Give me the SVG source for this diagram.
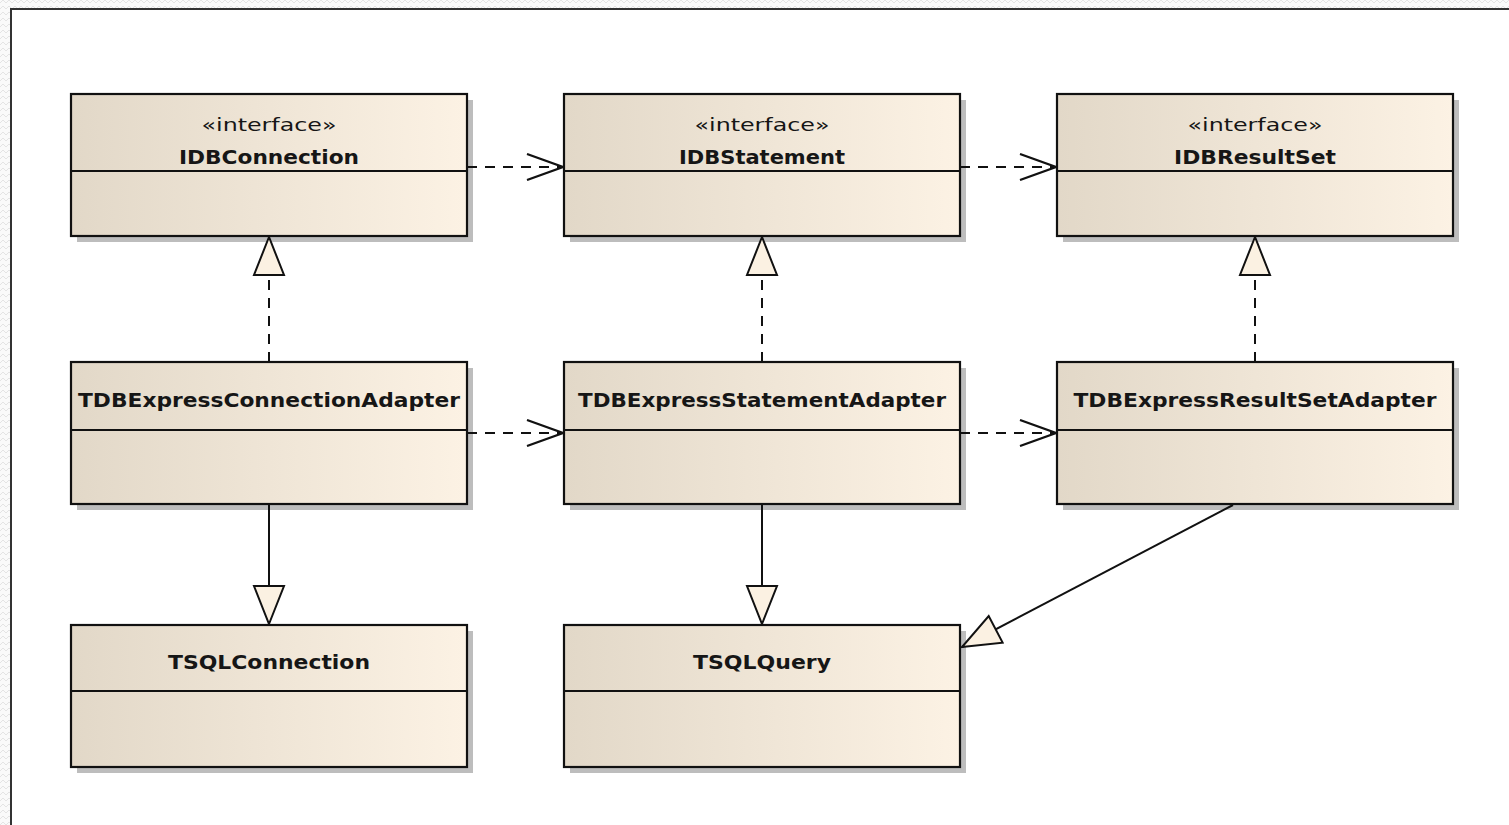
<svg xmlns="http://www.w3.org/2000/svg" width="1509" height="825" viewBox="0 0 1509 825">
  <defs>
    <linearGradient id="fill" x1="0" y1="0" x2="1" y2="0">
      <stop offset="0" stop-color="#e2d8c8"/>
      <stop offset="1" stop-color="#fcf2e4"/>
    </linearGradient>
    <pattern id="dots" width="6" height="6" patternUnits="userSpaceOnUse">
      <rect width="6" height="6" fill="#fafafa"/>
      <path d="M0 3 L3 0 L6 3" fill="none" stroke="#e4e4e4" stroke-width="1"/>
    </pattern>
    <!-- open arrowhead for dependencies -->
    <marker id="open" viewBox="0 0 40 28" refX="38" refY="14" markerWidth="40" markerHeight="28" markerUnits="userSpaceOnUse" orient="auto">
      <path d="M2 1 L38 14 L2 27" fill="none" stroke="#111" stroke-width="2.2"/>
    </marker>
    <!-- hollow triangle for realization / generalization -->
    <marker id="tri" viewBox="0 0 42 34" refX="40" refY="17" markerWidth="42" markerHeight="34" markerUnits="userSpaceOnUse" orient="auto">
      <path d="M40 17 L2 2 L2 32 Z" fill="#fbf1e2" stroke="#111" stroke-width="2"/>
    </marker>
  </defs>
  <style>
    .shadow { fill: #bdbdbd; }
    .box { fill: url(#fill); stroke: #111; stroke-width: 2.2; }
    .div { stroke: #111; stroke-width: 2; }
    .name { font-family: "DejaVu Sans", Verdana, sans-serif; font-weight: bold; font-size: 19px; fill: #161616; text-anchor: middle; }
    .stereo { font-family: "DejaVu Sans", Verdana, sans-serif; font-size: 18px; fill: #161616; text-anchor: middle; }
    .dep { fill: none; stroke: #111; stroke-width: 2; stroke-dasharray: 10 8; }
    .solid { fill: none; stroke: #111; stroke-width: 2; }
  </style>

  <!-- canvas background and frame -->
  <rect width="1509" height="825" fill="url(#dots)"/>
  <rect x="11" y="9" width="1498" height="816" fill="#ffffff"/>
  <path d="M11 825 L11 9 L1509 9" fill="none" stroke="#333" stroke-width="2"/>

  <!-- row 1: interfaces -->
  <g id="IDBConnection">
    <rect class="shadow" x="77" y="100" width="396" height="142"/>
    <rect class="box" x="71" y="94" width="396" height="142"/>
    <line class="div" x1="71" y1="171" x2="467" y2="171"/>
    <text class="stereo" x="269" y="131" textLength="135" lengthAdjust="spacingAndGlyphs">«interface»</text>
    <text class="name" x="269" y="164" textLength="180" lengthAdjust="spacingAndGlyphs">IDBConnection</text>
  </g>
  <g id="IDBStatement">
    <rect class="shadow" x="570" y="100" width="396" height="142"/>
    <rect class="box" x="564" y="94" width="396" height="142"/>
    <line class="div" x1="564" y1="171" x2="960" y2="171"/>
    <text class="stereo" x="762" y="131" textLength="135" lengthAdjust="spacingAndGlyphs">«interface»</text>
    <text class="name" x="762" y="164" textLength="166" lengthAdjust="spacingAndGlyphs">IDBStatement</text>
  </g>
  <g id="IDBResultSet">
    <rect class="shadow" x="1063" y="100" width="396" height="142"/>
    <rect class="box" x="1057" y="94" width="396" height="142"/>
    <line class="div" x1="1057" y1="171" x2="1453" y2="171"/>
    <text class="stereo" x="1255" y="131" textLength="135" lengthAdjust="spacingAndGlyphs">«interface»</text>
    <text class="name" x="1255" y="164" textLength="162" lengthAdjust="spacingAndGlyphs">IDBResultSet</text>
  </g>

  <!-- row 2: adapters -->
  <g id="TDBExpressConnectionAdapter">
    <rect class="shadow" x="77" y="368" width="396" height="142"/>
    <rect class="box" x="71" y="362" width="396" height="142"/>
    <line class="div" x1="71" y1="430" x2="467" y2="430"/>
    <text class="name" x="269" y="407" textLength="382" lengthAdjust="spacingAndGlyphs">TDBExpressConnectionAdapter</text>
  </g>
  <g id="TDBExpressStatementAdapter">
    <rect class="shadow" x="570" y="368" width="396" height="142"/>
    <rect class="box" x="564" y="362" width="396" height="142"/>
    <line class="div" x1="564" y1="430" x2="960" y2="430"/>
    <text class="name" x="762" y="407" textLength="368" lengthAdjust="spacingAndGlyphs">TDBExpressStatementAdapter</text>
  </g>
  <g id="TDBExpressResultSetAdapter">
    <rect class="shadow" x="1063" y="368" width="396" height="142"/>
    <rect class="box" x="1057" y="362" width="396" height="142"/>
    <line class="div" x1="1057" y1="430" x2="1453" y2="430"/>
    <text class="name" x="1255" y="407" textLength="363" lengthAdjust="spacingAndGlyphs">TDBExpressResultSetAdapter</text>
  </g>

  <!-- row 3: dbExpress classes -->
  <g id="TSQLConnection">
    <rect class="shadow" x="77" y="631" width="396" height="142"/>
    <rect class="box" x="71" y="625" width="396" height="142"/>
    <line class="div" x1="71" y1="691" x2="467" y2="691"/>
    <text class="name" x="269" y="669" textLength="202" lengthAdjust="spacingAndGlyphs">TSQLConnection</text>
  </g>
  <g id="TSQLQuery">
    <rect class="shadow" x="570" y="631" width="396" height="142"/>
    <rect class="box" x="564" y="625" width="396" height="142"/>
    <line class="div" x1="564" y1="691" x2="960" y2="691"/>
    <text class="name" x="762" y="669" textLength="138" lengthAdjust="spacingAndGlyphs">TSQLQuery</text>
  </g>

  <!-- connectors, drawn over the box shadows -->
  <g id="connectors">
    <path class="dep" d="M467 167 L563 167" marker-end="url(#open)"/>
    <path class="dep" d="M960 167 L1056 167" marker-end="url(#open)"/>
    <path class="dep" d="M467 433 L563 433" marker-end="url(#open)"/>
    <path class="dep" d="M960 433 L1056 433" marker-end="url(#open)"/>
    <path class="dep" d="M269 362 L269 237" marker-end="url(#tri)"/>
    <path class="dep" d="M762 362 L762 237" marker-end="url(#tri)"/>
    <path class="dep" d="M1255 362 L1255 237" marker-end="url(#tri)"/>
    <path class="solid" d="M269 505 L269 624" marker-end="url(#tri)"/>
    <path class="solid" d="M762 505 L762 624" marker-end="url(#tri)"/>
    <path class="solid" d="M1233 505 L962 647" marker-end="url(#tri)"/>
  </g>
</svg>
